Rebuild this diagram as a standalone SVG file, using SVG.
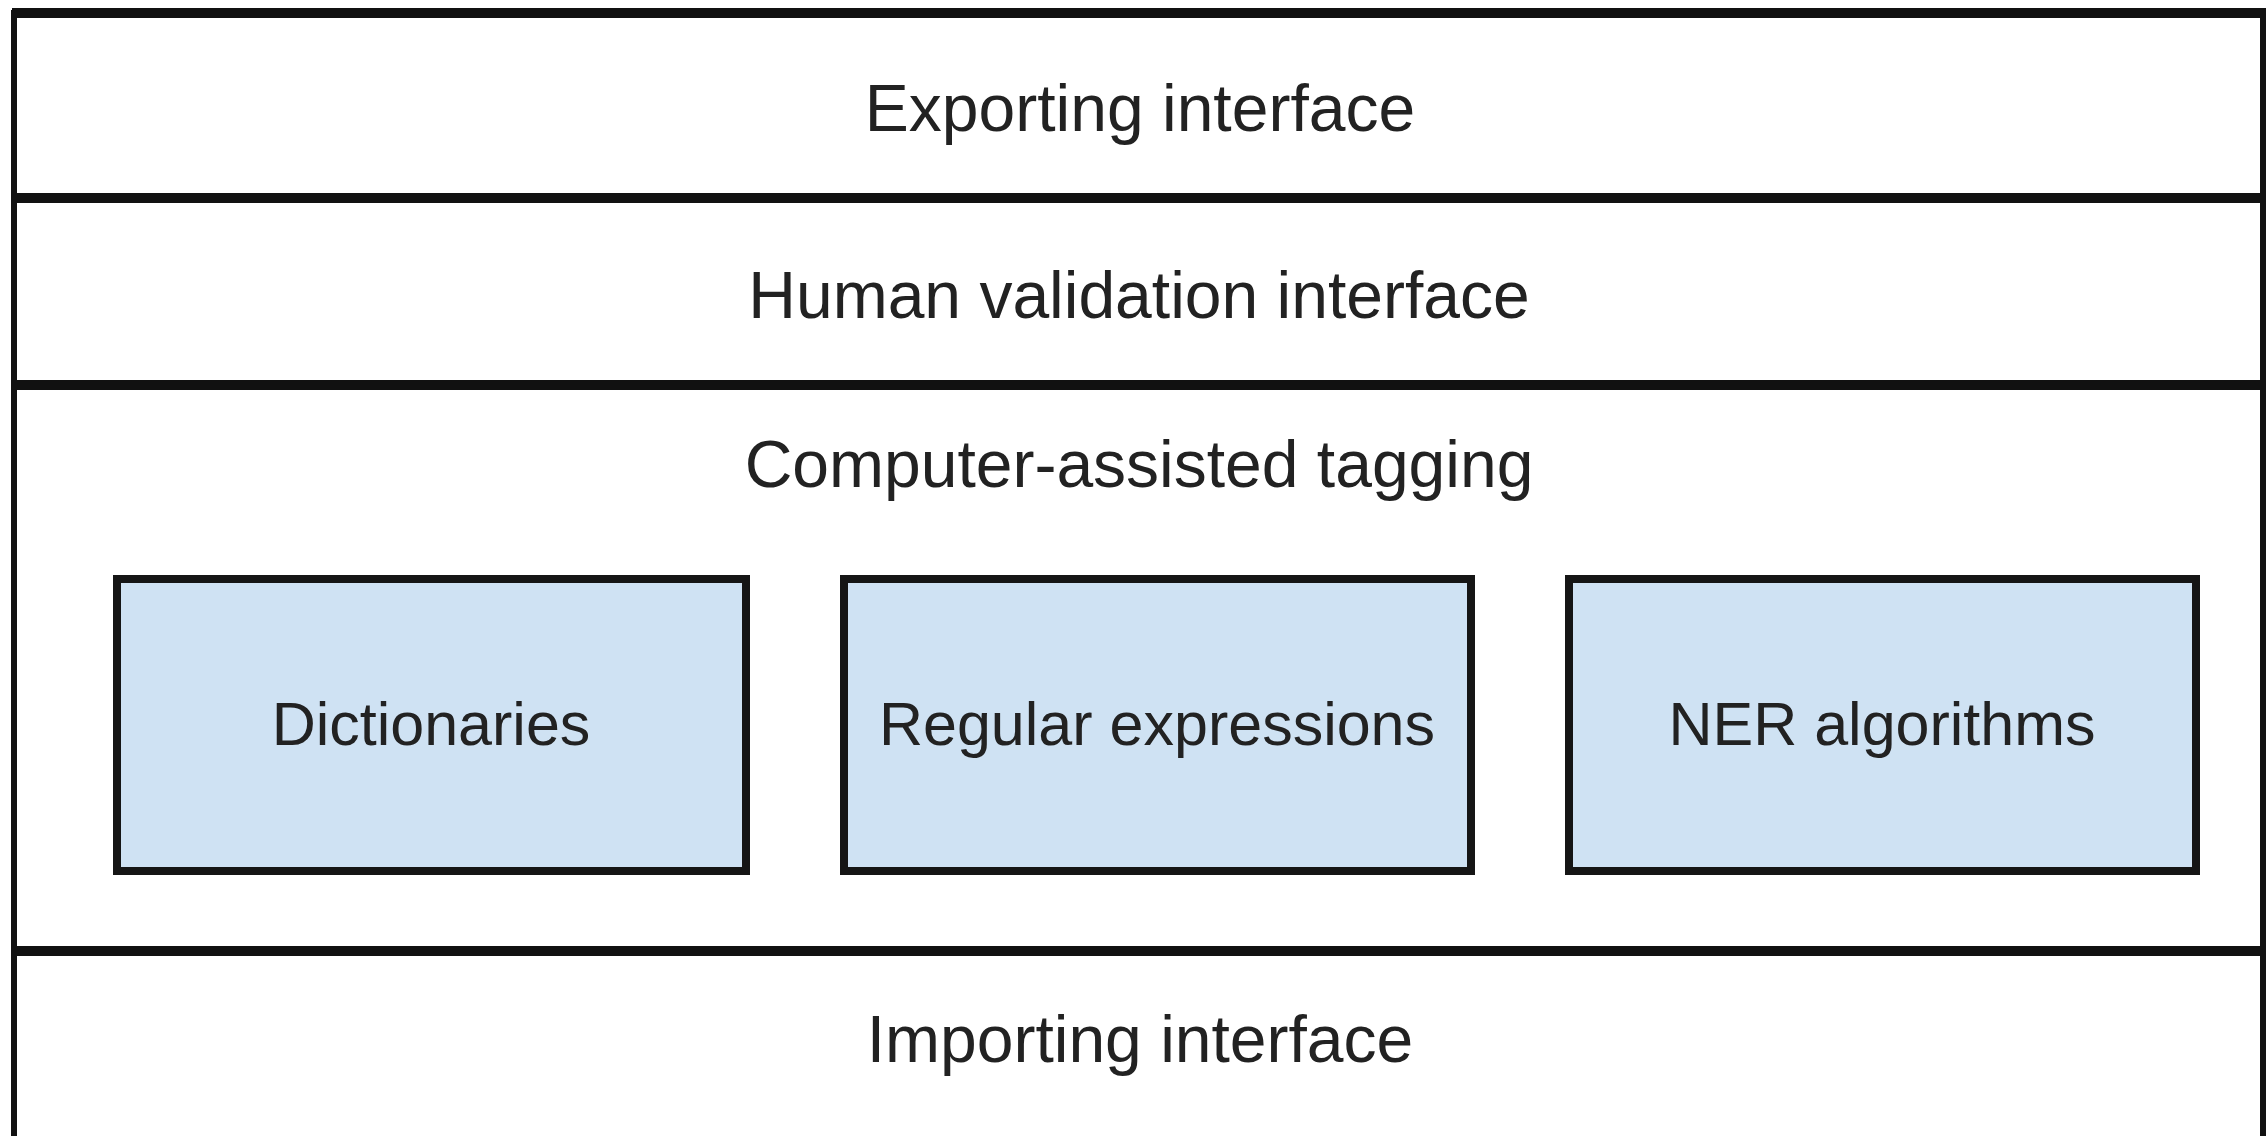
<svg xmlns="http://www.w3.org/2000/svg" width="2266" height="1136" viewBox="0 0 2266 1136">
<style>
.layer{fill:#ffffff;stroke:none}
.hline{stroke:#111;stroke-width:10}
.vline{stroke:#111;stroke-width:6}
.box{fill:#cfe2f3;stroke:#151515;stroke-width:8}
.lbl{font-family:"Liberation Sans",Arial,sans-serif;font-size:66px;fill:#222;text-anchor:middle}
.blbl{font-size:61px}
</style>
<rect width="2266" height="1136" fill="#ffffff"/>
<g id="exporting-interface">
<rect class="layer" x="14" y="13" width="2249" height="185"/>
<text class="lbl" x="1140" y="131">Exporting interface</text>
</g>
<g id="human-validation-interface">
<rect class="layer" x="14" y="198" width="2249" height="187"/>
<text class="lbl" x="1139" y="318">Human validation interface</text>
</g>
<g id="computer-assisted-tagging">
<rect class="layer" x="14" y="385" width="2249" height="566"/>
<text class="lbl" x="1139" y="487">Computer-assisted tagging</text>
</g>
<g id="dictionaries">
<rect class="box" x="117" y="579" width="629" height="292"/>
<text class="lbl blbl" x="431" y="745">Dictionaries</text>
</g>
<g id="regular-expressions">
<rect class="box" x="844" y="579" width="627" height="292"/>
<text class="lbl blbl" x="1157" y="745">Regular expressions</text>
</g>
<g id="ner-algorithms">
<rect class="box" x="1569" y="579" width="627" height="292"/>
<text class="lbl blbl" x="1882" y="745">NER algorithms</text>
</g>
<g id="importing-interface">
<rect class="layer" x="14" y="951" width="2249" height="190"/>
<text class="lbl" x="1140" y="1062">Importing interface</text>
</g>
<g id="frame">
<line class="hline" x1="12" y1="13" x2="2266" y2="13"/>
<line class="hline" x1="12" y1="198" x2="2266" y2="198"/>
<line class="hline" x1="12" y1="385" x2="2266" y2="385"/>
<line class="hline" x1="12" y1="951" x2="2266" y2="951"/>
<line class="vline" x1="14" y1="10" x2="14" y2="1136"/>
<line class="vline" x1="2263" y1="10" x2="2263" y2="1136"/>
</g>
</svg>
